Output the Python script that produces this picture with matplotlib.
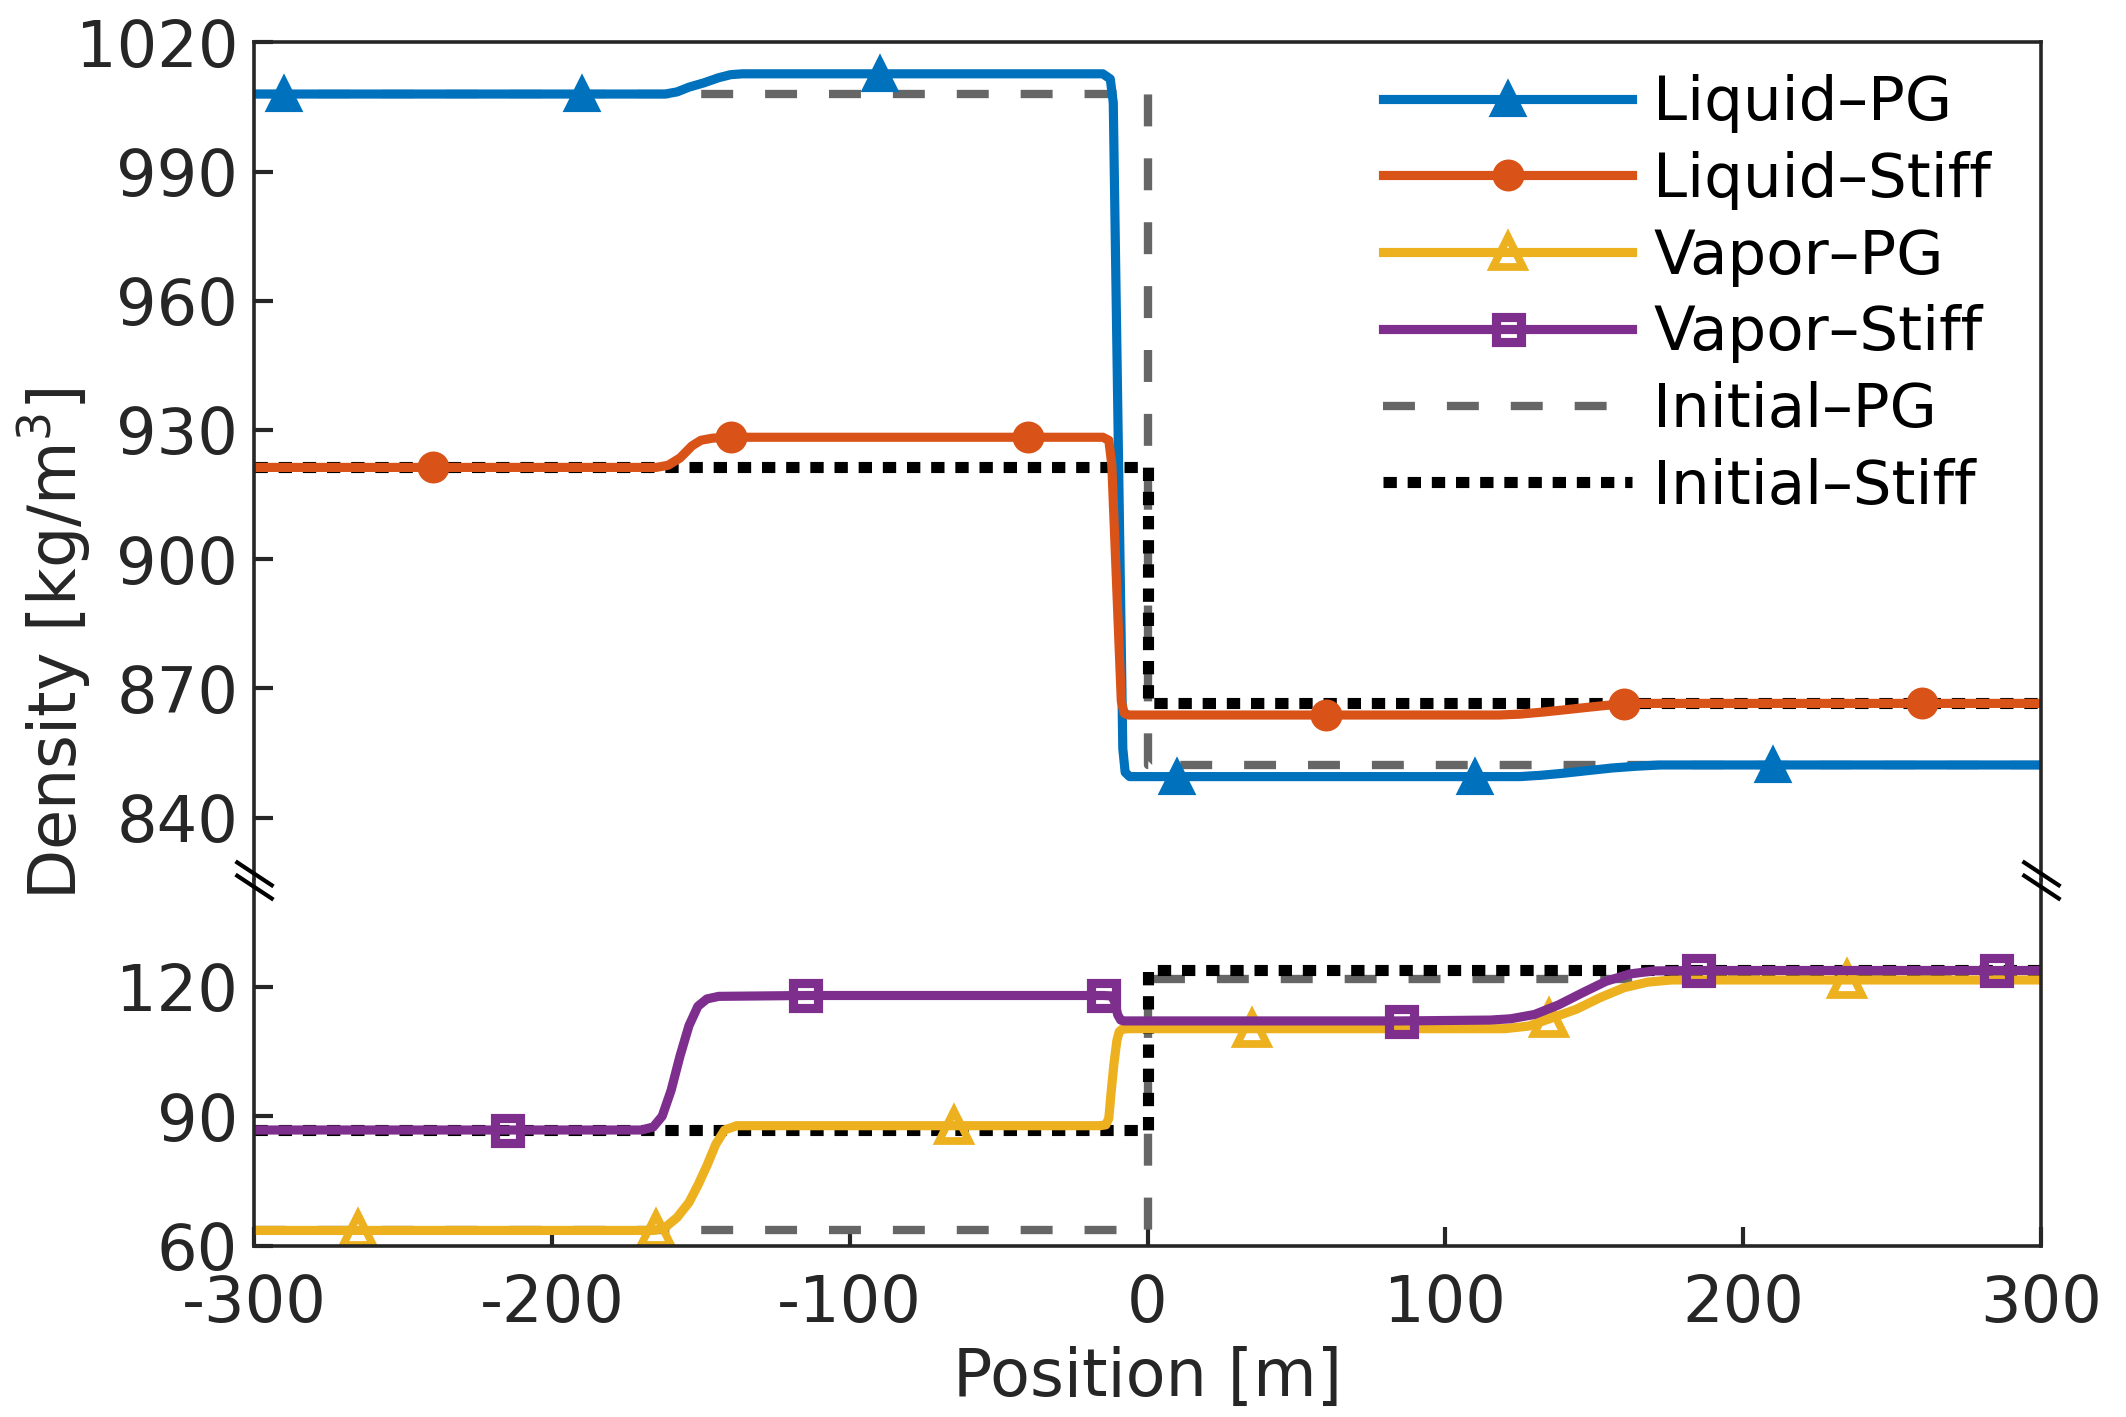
import matplotlib
matplotlib.use("Agg")
import matplotlib.pyplot as plt
from matplotlib.path import Path

plt.rcParams['font.family'] = ['DejaVu Sans']
plt.rcParams['lines.scale_dashes'] = False

# ---- data ----
liq_pg_x = [-300, -290, -190, -162, -158, -154, -149, -144, -140, -136, -90, -15, -12.5, -11.5,
            -8.3, -7.5, -6, 10, 110, 125, 132, 140, 148, 156, 164, 172, 210, 300]
liq_pg_y = [1008.0, 1008.0, 1008.0, 1008.0, 1008.5, 1009.6, 1010.6, 1011.8, 1012.5, 1012.7, 1012.7,
            1012.7, 1011.5, 1006.0, 856.0, 850.5, 849.5, 849.5, 849.5, 849.5, 849.8, 850.3, 850.9,
            851.5, 851.9, 852.2, 852.2, 852.2]
liq_pg_marks = [-290, -190, -90, 10, 110, 210]

liq_st_x = [-300, -240, -165, -161, -157, -153, -150, -146, -140, -40, -15, -13, -12, -8.8, -7.8,
            -6.5, 60, 118, 125, 133, 140, 148, 155, 160, 162, 260, 300]
liq_st_y = [921.3, 921.3, 921.3, 921.8, 923.5, 926.3, 927.6, 928.1, 928.3, 928.3, 928.3, 927.6,
            922.0, 867.0, 864.2, 863.8, 863.8, 863.8, 864.0, 864.5, 865.0, 865.6, 866.1, 866.4,
            866.5, 866.5, 866.5]
liq_st_marks = [-240, -140, -40, 60, 160, 260]

vap_pg_x = [-300, -265, -166, -165, -162, -158, -154, -151, -148, -145, -142, -138, -65, -16, -14,
            -13, -12.3, -11.3, -10.3, -9.5, -8.5, -6, 35, 120, 128, 135, 144, 152, 160, 168, 176,
            235, 300]
vap_pg_y = [63.5, 63.5, 63.5, 63.6, 64.2, 66.5, 70.0, 74.0, 78.5, 83.5, 86.8, 87.8, 87.8, 87.8,
            88.0, 89.5, 95.0, 102.0, 107.5, 109.6, 110.2, 110.3, 110.3, 110.3, 110.9, 112.6, 114.8,
            117.5, 119.8, 121.1, 121.6, 121.6, 121.6]
vap_pg_marks = [-265, -165, -65, 35, 135, 235]

vap_st_x = [-300, -215, -170, -166, -163, -160, -157, -154, -151, -148, -144, -115, -15, -12, -11,
            -10, -9, -8, 85, 115, 122, 130, 138, 146, 154, 162, 170, 185, 285, 300]
vap_st_y = [86.8, 86.8, 86.8, 87.5, 90.0, 96.0, 104.0, 111.0, 115.5, 117.2, 117.8, 118.0, 118.0,
            117.9, 116.5, 113.5, 112.3, 112.1, 112.1, 112.3, 112.6, 113.6, 115.8, 118.6, 121.3,
            123.0, 123.7, 123.8, 123.8, 123.8]
vap_st_marks = [-215, -115, -15, 85, 185, 285]

init_x = [-300, 0, 0, 300]
init_pg_liq = [1008.0, 1008.0, 852.3, 852.3]
init_pg_vap = [63.5, 63.5, 121.8, 121.8]
init_st_liq = [921.3, 921.3, 866.6, 866.6]
init_st_vap = [86.8, 86.8, 123.9, 123.9]

x_ticks = [-300, -200, -100, 0, 100, 200, 300]
top_ticks = [840, 870, 900, 930, 960, 990, 1020]
bot_ticks = [60, 90, 120]

labels = ['Liquid\u2013PG', 'Liquid\u2013Stiff', 'Vapor\u2013PG', 'Vapor\u2013Stiff',
          'Initial\u2013PG', 'Initial\u2013Stiff']

blue = '#0072BD'
orange = '#D95319'
yellow = '#EDB120'
purple = '#7E2F8E'
gray = '#666666'
dark = '#262626'

fig = plt.figure(figsize=(10.63, 7.085), dpi=200)
ax_top = fig.add_axes([0.1196, 0.3790, 0.8403, 0.5911])
ax_bot = fig.add_axes([0.1196, 0.1210, 0.8403, 0.2580])


def marks(xs, ms):
    return [xs.index(m) for m in ms]


dash_gray = dict(color=gray, lw=3.0, dashes=(11.5, 11.5), dash_capstyle='butt')
dot_black = dict(color='black', lw=4.0, dashes=(4.8, 3.9), dash_capstyle='butt')

h_ipg, = ax_top.plot(init_x, init_pg_liq, **dash_gray)
h_ist, = ax_top.plot(init_x, init_st_liq, **dot_black)
ax_bot.plot(init_x, init_pg_vap, **dash_gray)
ax_bot.plot(init_x, init_st_vap, **dot_black)

h_lpg, = ax_top.plot(liq_pg_x, liq_pg_y, color=blue, lw=3.3, marker='^', ms=11.5, mew=1.5,
                     mfc=blue, mec=blue, markevery=marks(liq_pg_x, liq_pg_marks))
h_lst, = ax_top.plot(liq_st_x, liq_st_y, color=orange, lw=3.3, marker='o', ms=10, mew=1.5,
                     mfc=orange, mec=orange, markevery=marks(liq_st_x, liq_st_marks))
h_vpg, = ax_bot.plot(vap_pg_x, vap_pg_y, color=yellow, lw=3.3, marker='^', ms=10.5, mew=2.8,
                     mfc='none', mec=yellow, markevery=marks(vap_pg_x, vap_pg_marks))
h_vst, = ax_bot.plot(vap_st_x, vap_st_y, color=purple, lw=3.3, marker='s', ms=9, mew=3.3,
                     mfc='none', mec=purple, markevery=marks(vap_st_x, vap_st_marks))

ax_top.set_ylim(825.5, 1020)
ax_bot.set_ylim(60, 144.8)
for ax in (ax_top, ax_bot):
    ax.set_xlim(-300, 300)
    for s in ax.spines.values():
        s.set_linewidth(1.3)
        s.set_color(dark)
    ax.tick_params(direction='in', length=7, width=1.5, color=dark, labelcolor=dark,
                   labelsize=23, top=False, right=False)
    ax.tick_params(axis='y', pad=5.8)
    ax.tick_params(axis='x', pad=10)

ax_top.spines['bottom'].set_visible(False)
ax_bot.spines['top'].set_visible(False)
ax_top.set_xticks([])
ax_top.set_yticks(top_ticks)
ax_bot.set_yticks(bot_ticks)
ax_bot.set_xticks(x_ticks)
ax_bot.set_xticklabels([str(t) for t in x_ticks])
ax_bot.set_xlabel('Position [m]', fontsize=23.5, color=dark, labelpad=4)
fig.text(0.0256, 0.5455, 'Density [kg/m$^3$]', rotation=90, ha='center', va='center',
         fontsize=23.5, color=dark)

# break marks on both sides of the frame
brk = Path([(-1, 1.01), (1, -0.31), (-1, 0.31), (1, -1.01)],
           [Path.MOVETO, Path.LINETO, Path.MOVETO, Path.LINETO])
ax_bot.plot([0, 1], [1, 1], transform=ax_bot.transAxes, linestyle='none', marker=brk,
            ms=13.8, mec='black', mew=1.5, clip_on=False, zorder=5)

leg = ax_top.legend([h_lpg, h_lst, h_vpg, h_vst, h_ipg, h_ist], labels, loc='upper left',
                    bbox_to_anchor=(0.6318, 0.9621), frameon=False, fontsize=22,
                    handlelength=4.08, handletextpad=0.34, labelspacing=0.29,
                    borderpad=0, borderaxespad=0, numpoints=1)

fig.savefig('out.png', dpi=200)
